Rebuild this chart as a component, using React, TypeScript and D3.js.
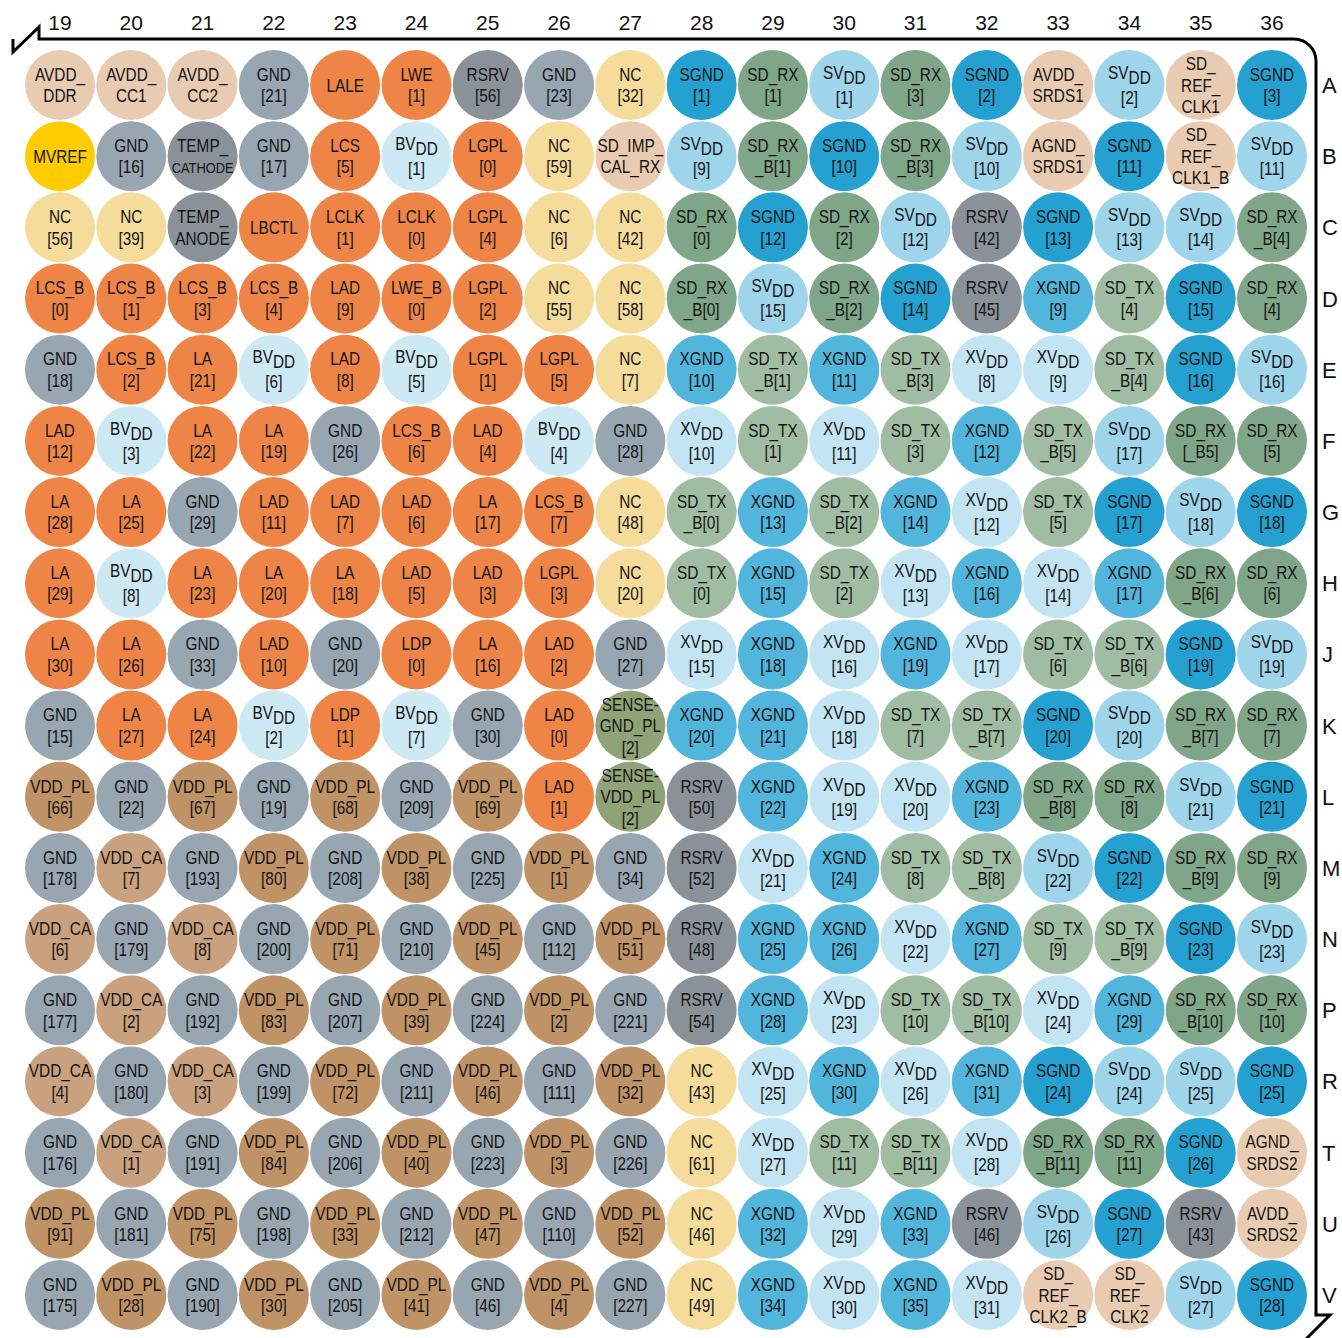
import * as d3 from 'd3'

// pin map, columns 19..36, rows A..V ("\n" = line break, {..} = subscript)
const columns = ['19', '20', '21', '22', '23', '24', '25', '26', '27', '28', '29', '30', '31', '32', '33', '34', '35', '36']
const rows = ['A', 'B', 'C', 'D', 'E', 'F', 'G', 'H', 'J', 'K', 'L', 'M', 'N', 'P', 'R', 'T', 'U', 'V']

const rowA = ['AVDD_\nDDR', 'AVDD_\nCC1', 'AVDD_\nCC2', 'GND\n[21]', 'LALE', 'LWE\n[1]', 'RSRV\n[56]', 'GND\n[23]', 'NC\n[32]', 'SGND\n[1]', 'SD_RX\n[1]', 'SV{DD}\n[1]', 'SD_RX\n[3]', 'SGND\n[2]', 'AVDD_\nSRDS1', 'SV{DD}\n[2]', 'SD_\nREF_\nCLK1', 'SGND\n[3]']
const rowB = ['MVREF', 'GND\n[16]', 'TEMP_\nCATHODE', 'GND\n[17]', 'LCS\n[5]', 'BV{DD}\n[1]', 'LGPL\n[0]', 'NC\n[59]', 'SD_IMP_\nCAL_RX', 'SV{DD}\n[9]', 'SD_RX\n_B[1]', 'SGND\n[10]', 'SD_RX\n_B[3]', 'SV{DD}\n[10]', 'AGND_\nSRDS1', 'SGND\n[11]', 'SD_\nREF_\nCLK1_B', 'SV{DD}\n[11]']
const rowC = ['NC\n[56]', 'NC\n[39]', 'TEMP_\nANODE', 'LBCTL', 'LCLK\n[1]', 'LCLK\n[0]', 'LGPL\n[4]', 'NC\n[6]', 'NC\n[42]', 'SD_RX\n[0]', 'SGND\n[12]', 'SD_RX\n[2]', 'SV{DD}\n[12]', 'RSRV\n[42]', 'SGND\n[13]', 'SV{DD}\n[13]', 'SV{DD}\n[14]', 'SD_RX\n_B[4]']
const rowD = ['LCS_B\n[0]', 'LCS_B\n[1]', 'LCS_B\n[3]', 'LCS_B\n[4]', 'LAD\n[9]', 'LWE_B\n[0]', 'LGPL\n[2]', 'NC\n[55]', 'NC\n[58]', 'SD_RX\n_B[0]', 'SV{DD}\n[15]', 'SD_RX\n_B[2]', 'SGND\n[14]', 'RSRV\n[45]', 'XGND\n[9]', 'SD_TX\n[4]', 'SGND\n[15]', 'SD_RX\n[4]']
const rowE = ['GND\n[18]', 'LCS_B\n[2]', 'LA\n[21]', 'BV{DD}\n[6]', 'LAD\n[8]', 'BV{DD}\n[5]', 'LGPL\n[1]', 'LGPL\n[5]', 'NC\n[7]', 'XGND\n[10]', 'SD_TX\n_B[1]', 'XGND\n[11]', 'SD_TX\n_B[3]', 'XV{DD}\n[8]', 'XV{DD}\n[9]', 'SD_TX\n_B[4]', 'SGND\n[16]', 'SV{DD}\n[16]']
const rowF = ['LAD\n[12]', 'BV{DD}\n[3]', 'LA\n[22]', 'LA\n[19]', 'GND\n[26]', 'LCS_B\n[6]', 'LAD\n[4]', 'BV{DD}\n[4]', 'GND\n[28]', 'XV{DD}\n[10]', 'SD_TX\n[1]', 'XV{DD}\n[11]', 'SD_TX\n[3]', 'XGND\n[12]', 'SD_TX\n_B[5]', 'SV{DD}\n[17]', 'SD_RX\n[_B5]', 'SD_RX\n[5]']
const rowG = ['LA\n[28]', 'LA\n[25]', 'GND\n[29]', 'LAD\n[11]', 'LAD\n[7]', 'LAD\n[6]', 'LA\n[17]', 'LCS_B\n[7]', 'NC\n[48]', 'SD_TX\n_B[0]', 'XGND\n[13]', 'SD_TX\n_B[2]', 'XGND\n[14]', 'XV{DD}\n[12]', 'SD_TX\n[5]', 'SGND\n[17]', 'SV{DD}\n[18]', 'SGND\n[18]']
const rowH = ['LA\n[29]', 'BV{DD}\n[8]', 'LA\n[23]', 'LA\n[20]', 'LA\n[18]', 'LAD\n[5]', 'LAD\n[3]', 'LGPL\n[3]', 'NC\n[20]', 'SD_TX\n[0]', 'XGND\n[15]', 'SD_TX\n[2]', 'XV{DD}\n[13]', 'XGND\n[16]', 'XV{DD}\n[14]', 'XGND\n[17]', 'SD_RX\n_B[6]', 'SD_RX\n[6]']
const rowJ = ['LA\n[30]', 'LA\n[26]', 'GND\n[33]', 'LAD\n[10]', 'GND\n[20]', 'LDP\n[0]', 'LA\n[16]', 'LAD\n[2]', 'GND\n[27]', 'XV{DD}\n[15]', 'XGND\n[18]', 'XV{DD}\n[16]', 'XGND\n[19]', 'XV{DD}\n[17]', 'SD_TX\n[6]', 'SD_TX\n_B[6]', 'SGND\n[19]', 'SV{DD}\n[19]']
const rowK = ['GND\n[15]', 'LA\n[27]', 'LA\n[24]', 'BV{DD}\n[2]', 'LDP\n[1]', 'BV{DD}\n[7]', 'GND\n[30]', 'LAD\n[0]', 'SENSE-\nGND_PL\n[2]', 'XGND\n[20]', 'XGND\n[21]', 'XV{DD}\n[18]', 'SD_TX\n[7]', 'SD_TX\n_B[7]', 'SGND\n[20]', 'SV{DD}\n[20]', 'SD_RX\n_B[7]', 'SD_RX\n[7]']
const rowL = ['VDD_PL\n[66]', 'GND\n[22]', 'VDD_PL\n[67]', 'GND\n[19]', 'VDD_PL\n[68]', 'GND\n[209]', 'VDD_PL\n[69]', 'LAD\n[1]', 'SENSE-\nVDD_PL\n[2]', 'RSRV\n[50]', 'XGND\n[22]', 'XV{DD}\n[19]', 'XV{DD}\n[20]', 'XGND\n[23]', 'SD_RX\n_B[8]', 'SD_RX\n[8]', 'SV{DD}\n[21]', 'SGND\n[21]']
const rowM = ['GND\n[178]', 'VDD_CA\n[7]', 'GND\n[193]', 'VDD_PL\n[80]', 'GND\n[208]', 'VDD_PL\n[38]', 'GND\n[225]', 'VDD_PL\n[1]', 'GND\n[34]', 'RSRV\n[52]', 'XV{DD}\n[21]', 'XGND\n[24]', 'SD_TX\n[8]', 'SD_TX\n_B[8]', 'SV{DD}\n[22]', 'SGND\n[22]', 'SD_RX\n_B[9]', 'SD_RX\n[9]']
const rowN = ['VDD_CA\n[6]', 'GND\n[179]', 'VDD_CA\n[8]', 'GND\n[200]', 'VDD_PL\n[71]', 'GND\n[210]', 'VDD_PL\n[45]', 'GND\n[112]', 'VDD_PL\n[51]', 'RSRV\n[48]', 'XGND\n[25]', 'XGND\n[26]', 'XV{DD}\n[22]', 'XGND\n[27]', 'SD_TX\n[9]', 'SD_TX\n_B[9]', 'SGND\n[23]', 'SV{DD}\n[23]']
const rowP = ['GND\n[177]', 'VDD_CA\n[2]', 'GND\n[192]', 'VDD_PL\n[83]', 'GND\n[207]', 'VDD_PL\n[39]', 'GND\n[224]', 'VDD_PL\n[2]', 'GND\n[221]', 'RSRV\n[54]', 'XGND\n[28]', 'XV{DD}\n[23]', 'SD_TX\n[10]', 'SD_TX\n_B[10]', 'XV{DD}\n[24]', 'XGND\n[29]', 'SD_RX\n_B[10]', 'SD_RX\n[10]']
const rowR = ['VDD_CA\n[4]', 'GND\n[180]', 'VDD_CA\n[3]', 'GND\n[199]', 'VDD_PL\n[72]', 'GND\n[211]', 'VDD_PL\n[46]', 'GND\n[111]', 'VDD_PL\n[32]', 'NC\n[43]', 'XV{DD}\n[25]', 'XGND\n[30]', 'XV{DD}\n[26]', 'XGND\n[31]', 'SGND\n[24]', 'SV{DD}\n[24]', 'SV{DD}\n[25]', 'SGND\n[25]']
const rowT = ['GND\n[176]', 'VDD_CA\n[1]', 'GND\n[191]', 'VDD_PL\n[84]', 'GND\n[206]', 'VDD_PL\n[40]', 'GND\n[223]', 'VDD_PL\n[3]', 'GND\n[226]', 'NC\n[61]', 'XV{DD}\n[27]', 'SD_TX\n[11]', 'SD_TX\n_B[11]', 'XV{DD}\n[28]', 'SD_RX\n_B[11]', 'SD_RX\n[11]', 'SGND\n[26]', 'AGND_\nSRDS2']
const rowU = ['VDD_PL\n[91]', 'GND\n[181]', 'VDD_PL\n[75]', 'GND\n[198]', 'VDD_PL\n[33]', 'GND\n[212]', 'VDD_PL\n[47]', 'GND\n[110]', 'VDD_PL\n[52]', 'NC\n[46]', 'XGND\n[32]', 'XV{DD}\n[29]', 'XGND\n[33]', 'RSRV\n[46]', 'SV{DD}\n[26]', 'SGND\n[27]', 'RSRV\n[43]', 'AVDD_\nSRDS2']
const rowV = ['GND\n[175]', 'VDD_PL\n[28]', 'GND\n[190]', 'VDD_PL\n[30]', 'GND\n[205]', 'VDD_PL\n[41]', 'GND\n[46]', 'VDD_PL\n[4]', 'GND\n[227]', 'NC\n[49]', 'XGND\n[34]', 'XV{DD}\n[30]', 'XGND\n[35]', 'XV{DD}\n[31]', 'SD_\nREF_\nCLK2_B', 'SD_\nREF_\nCLK2', 'SV{DD}\n[27]', 'SGND\n[28]']

const pinRows = [rowA, rowB, rowC, rowD, rowE, rowF, rowG, rowH, rowJ, rowK, rowL, rowM, rowN, rowP, rowR, rowT, rowU, rowV]

const W = 1342
const H = 1338
const R = 35
const SQUEEZE = 0.83

function pinColor(name: string) {
  if (name.startsWith('SD_RX')) return '#7fa688'
  if (name.startsWith('SD_TX')) return '#a0bda3'
  if (name.startsWith('SD_') || name.startsWith('AVDD') || name.startsWith('AGND')) return '#e8cbb0'
  if (name.startsWith('SGND')) return '#24a1d0'
  if (name.startsWith('XGND')) return '#52b5db'
  if (name.startsWith('SV')) return '#9ed5ea'
  if (name.startsWith('XV')) return '#c3e5f3'
  if (name.startsWith('BV')) return '#cde9f3'
  if (name.startsWith('GND')) return '#97a6b1'
  if (name.startsWith('RSRV') || name.startsWith('TEMP')) return '#8b9199'
  if (name.startsWith('MVREF')) return '#ffcc00'
  if (name.startsWith('NC')) return '#f5dc9b'
  if (name.startsWith('VDD_PL')) return '#c09367'
  if (name.startsWith('VDD_CA')) return '#c9a17f'
  if (name.startsWith('SENSE')) return '#8fa377'
  return '#ee8547'
}

function PinLabel({ cx, cy, label }: { cx: number; cy: number; label: string }) {
  const lines = label.split('\n')
  const n = lines.length
  const step = 21.5
  let extra = 0
  return (
    <g>
      {lines.map((line, i) => {
        const base = cy + 6.5 + (i - (n - 1) / 2) * step
        const sub = line.match(/^(.*)\{(.+)\}$/)
        if (sub) {
          extra = 1.5
          return (
            <text key={i} transform={`translate(${cx},${base - 2}) scale(${SQUEEZE},1)`} textAnchor="middle">
              {sub[1]}
              <tspan dy={5}>{sub[2]}</tspan>
            </text>
          )
        }
        const yy = base + (i > 0 ? extra : 0)
        return (
          <text key={i} transform={`translate(${cx},${yy}) scale(${SQUEEZE},1)`} textAnchor="middle"
            fontSize={line === 'CATHODE' ? 15.5 : undefined}>
            {line}
          </text>
        )
      })}
    </g>
  )
}

export default function App() {
  const x = d3.scalePoint<string>().domain(columns).range([60, 1272])
  const y = d3.scalePoint<string>().domain(rows).range([85, 1295])

  const frame = d3.path()
  frame.moveTo(13, 39)
  frame.lineTo(13, 52)
  frame.lineTo(39, 27)
  frame.lineTo(39, 39)
  frame.lineTo(1294, 39)
  frame.arcTo(1316, 39, 1316, 61, 22)
  frame.lineTo(1316, 1315)
  frame.lineTo(1330, 1315)
  frame.lineTo(1306, 1339)

  return (
    <div style={{ position: 'absolute', left: 0, top: 0 }}>
      <svg width={W} height={H} style={{ display: 'block', background: '#fff' }}>
        <path d={frame.toString()} fill="none" stroke="#000" strokeWidth={3} />
        <g fontFamily="'Liberation Sans', Arial, sans-serif" fontSize={21} fill="#111">
          {columns.map((c) => (
            <text key={c} x={x(c)} y={30} textAnchor="middle">{c}</text>
          ))}
          {rows.map((r) => (
            <text key={r} x={1322} y={(y(r) ?? 0) + 8} fontSize={22}>{r}</text>
          ))}
        </g>
        <g fontFamily="'Liberation Sans', Arial, sans-serif" fontSize={18.5} fill="#141414">
          {pinRows.map((pins, ri) =>
            pins.map((label, ci) => {
              const cx = x(columns[ci]) ?? 0
              const cy = y(rows[ri]) ?? 0
              return (
                <g key={`${ri}-${ci}`}>
                  <circle cx={cx} cy={cy} r={R} fill={pinColor(label)} />
                  <PinLabel cx={cx} cy={cy} label={label} />
                </g>
              )
            })
          )}
        </g>
      </svg>
    </div>
  )
}
